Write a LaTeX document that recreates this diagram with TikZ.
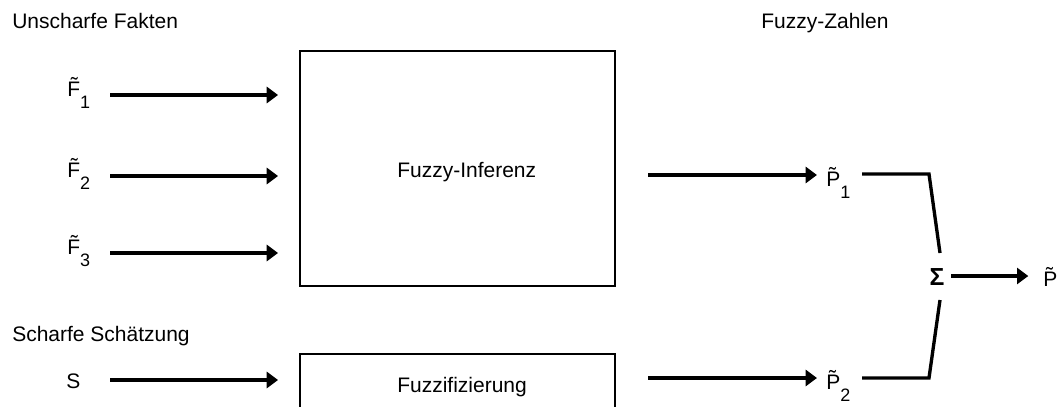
\documentclass[tikz,border=0pt]{standalone}
\usepackage{fontspec}
\setmainfont{Liberation Sans}
\usetikzlibrary{arrows.meta,positioning}
\newcommand{\fz}[2]{\~{#1}\raisebox{-9pt}{\fontsize{13.5}{14}\selectfont#2}}
\tikzset{
  arr/.style={line width=2.5pt,-{Triangle[length=8.5pt,width=12pt]}},
  conn/.style={line width=2.5pt},
  box/.style={draw,line width=1.4pt,inner sep=0pt},
  txt/.style={anchor=base west,inner sep=0pt,font=\fontsize{15.75}{19}\selectfont}
}
\begin{document}
\begin{tikzpicture}[x=.75pt,y=-.75pt]
\useasboundingbox (0,0) rectangle (1058,407);
% headings
\node[txt] (hin) at (12,28) {Unscharfe Fakten};
\node[txt] (hout) at (761,28) {Fuzzy-Zahlen};
\node[txt] (hs) at (12,341) {Scharfe Schätzung};
% blocks
\node[box,minimum width=236.25pt,minimum height=176.25pt] (inf) at (457.5,168.5) {};
\node[txt] (inft) at (397,177) {Fuzzy-Inferenz};
\node[box,minimum width=236.25pt,minimum height=43.5pt] (fuz) at (457.5,383) {};
\node[txt] (fuzt) at (397,392) {Fuzzifizierung};
% unscharfe Fakten
\foreach \i/\y in {1/95,2/176,3/253}{
  \node[txt] (f\i) at (67,\y+1) {\fz{F}{\i}};
  \coordinate (in\i) at (110,\y);
  \draw[arr,shorten >=15.75pt] (in\i) -- (in\i -| inf.west);
}
% scharfe Schaetzung
\node[txt] (s) at (66,388) {S};
\coordinate (ins) at (110,380);
\draw[arr,shorten >=15.75pt] (ins) -- (ins -| fuz.west);
% Fuzzy-Zahlen
\node[txt] (p1) at (826,186) {\fz{P}{1}};
\node[txt] (p2) at (826,389) {\fz{P}{2}};
\coordinate (o1) at (648,175);
\coordinate (o2) at (648,378);
\draw[arr,shorten >=6.75pt] (o1) -- (o1 -| p1.west);
\draw[arr,shorten >=6.75pt] (o2) -- (o2 -| p2.west);
% Summe
\node[txt,anchor=center,font=\bfseries\fontsize{18.5}{22}\selectfont] (sig) at (937,277) {Σ};
\node[txt] (p) at (1043,286) {\~{P}};
\coordinate (k1) at (862,174);
\coordinate (k2) at (862,378);
\coordinate (j1) at (940,253);
\coordinate (j2) at (940,300);
\draw[conn] (k1) -- (929,174) -- (j1);
\draw[conn] (k2) -- (929,378) -- (j2);
\coordinate (so) at (951,276);
\draw[arr,shorten >=11pt] (so) -- (so -| p.west);
\end{tikzpicture}
\end{document}
